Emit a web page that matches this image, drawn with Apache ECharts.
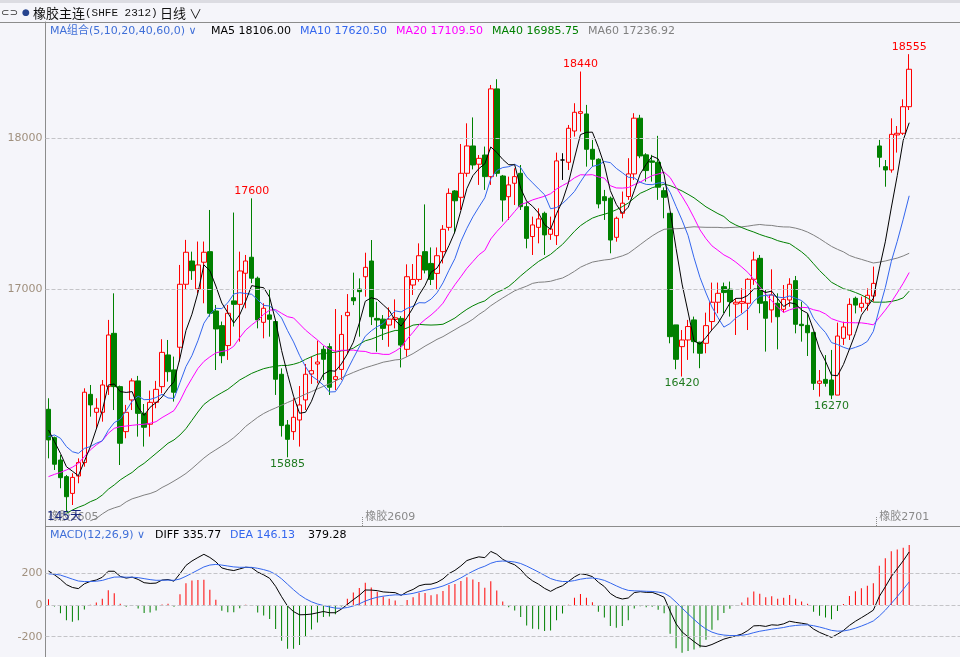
<!DOCTYPE html>
<html><head><meta charset="utf-8">
<script src="https://cdn.jsdelivr.net/npm/echarts@6/dist/echarts.min.js"></script>
<style>html,body{margin:0;padding:0;background:#f5f5fa;}#c{width:960px;height:657px;}</style>
</head><body><div id="c"></div>
<script>
// ---- daily bars (145 days) ----
const opens = [16203,16015,15867,15757,15646,15761,15850,16302,16183,16183,16353,16706,16353,16055,16265,16391,16176,16104,16249,16353,
16563,16464,16614,17031,17185,17000,17177,17247,16854,16757,16625,16921,16898,17104,17210,17071,16779,16828,16784,16435,
16099,16055,16132,16265,16437,16503,16600,16618,16401,16467,16823,16942,16999,17081,17185,16805,16800,16761,16798,16805,
16600,17026,17063,17247,17169,17103,17247,17408,17649,17607,17766,17947,17826,17887,17744,18325,17748,17611,17700,17766,
17545,17347,17408,17501,17362,17353,17854,17839,18046,18163,18159,17925,17859,17611,17601,17342,17501,17612,17762,18131,
17888,17848,17839,17651,17501,16762,16618,16662,16795,16647,16640,16784,16912,17015,16998,16900,16905,16905,17064,17203,
16916,16861,16905,16865,16927,17055,16766,16759,16712,16375,16401,16397,16297,16673,16695,16938,16878,16905,16953,17947,
17810,17788,18020,18031,18207];
const closes = [16000,15839,15750,15624,15752,15850,16316,16232,16210,16364,16695,16353,15978,16183,16391,16176,16084,16249,16335,16580,
16452,16316,17031,17243,17121,17159,17243,16839,16735,16558,16839,16898,17119,17185,17071,16795,16872,16799,16402,16095,
16004,16150,16232,16435,16459,16516,16534,16349,16419,16699,16845,16922,16982,17143,16816,16794,16739,16800,16809,16628,
17081,17063,17220,17125,17063,17220,17395,17633,17584,17766,17947,17821,17865,17744,18325,17766,17589,17689,17744,17545,
17335,17424,17464,17358,17397,17848,17854,18064,18170,18174,17925,17859,17563,17585,17324,17468,17568,17762,18131,17881,
17784,17839,17674,17607,16684,16534,16662,16751,16651,16574,16757,16912,16971,16976,16916,16912,16916,17064,17192,16905,
16806,16960,16816,16931,17031,16766,16757,16710,16375,16390,16375,16297,16688,16748,16898,16893,16905,16958,17037,17872,
17788,18024,18031,18207,18455];
const lows = [15878,15801,15680,15525,15569,15713,15823,16154,16077,16121,16298,16198,15834,16011,16198,16022,15956,16022,16210,16309,
16386,16254,16519,16993,17060,16971,16905,16817,16463,16508,16530,16751,16651,16872,17038,16739,16673,16684,16298,16022,
15885,16000,15956,16198,16371,16375,16397,16298,16330,16397,16573,16893,16684,16949,16761,16584,16662,16617,16739,16480,
16551,16960,17048,17103,17026,16993,17169,17386,17368,17523,17743,17792,17689,17656,17689,17744,17446,17457,17556,17523,
17269,17225,17302,17225,17325,17291,17722,17788,18009,18042,17810,17810,17534,17457,17236,17313,17468,17590,17722,17866,
17711,17711,17590,17468,16640,16468,16420,16530,16574,16475,16574,16728,16839,16839,16817,16695,16839,16728,17027,16839,
16585,16777,16600,16843,16882,16706,16651,16556,16331,16287,16353,16270,16297,16629,16662,16838,16849,16856,16916,17806,
17677,17770,17903,18020,18185];
const highs = [16276,16022,15900,15768,15779,15878,16342,16364,16276,16397,16795,16971,16360,16232,16408,16424,16238,16327,16391,16667,
16662,16552,17159,17325,17247,17314,17314,17523,16894,16784,16894,17506,17247,17225,17600,17082,16905,16993,16795,16474,
16132,16276,16357,16503,16552,16658,16622,16640,16867,16827,16966,17108,17070,17240,17324,16915,16827,16878,16931,16820,
17163,17165,17302,17560,17275,17275,17423,17666,17655,17960,18097,18136,17887,17943,18351,18389,17755,17744,17799,17821,
17578,17479,17534,17512,17479,17903,17899,18086,18230,18440,18219,17987,17865,17656,17612,17479,17645,17866,18164,18153,
17899,17888,18014,17673,17501,16762,16728,16795,16817,16651,16843,17042,17042,17042,17049,16938,17005,17071,17247,17225,
16993,17130,16971,17026,17071,17086,16916,16838,16717,16463,16562,16596,16777,16783,16938,16949,16949,17004,17148,17987,
17854,18130,18079,18256,18555];

// moving-average values before a full window exists
const ma5Head = [16066,15989,15911,15823];
const ma10Head = [16022,16033,16011,15956,15922,15911,15944,15956,15978];
const ma20Head = [15757,15772,15785,15801,15819,15845,15889,15934,15967,15995,16044,16077,16088,16092,16097,16101,16104,16110,16121];
const ma40Head = [null,null,null,15514,15536,15554,15569,15591,15607,15635,15673,15702,15735,15761,15785,15819,15845,15878,15911,15944,
15978,16000,16033,16075,16130,16185,16235,16265,16290,16313,16335,16366,16397,16419,16441,16457,16472,16481,16488];
const ma60Head = [null,null,null,null,null,null,null,15465,15480,15510,15535,15550,15562,15590,15610,15622,15635,15645,15660,15685,
15705,15728,15752,15778,15810,15845,15880,15910,15935,15960,15985,16015,16050,16090,16120,16150,16175,16195,16212,16230,
16248,16265,16285,16303,16320,16338,16355,16372,16390,16410,16430,16447,16463,16478,16490,16502,16515,16522,16530];

// MACD state at the first visible day
const macdStart = {ema12: 15940, ema26: 15726, dea: 196};

const priceTicks = [17000, 18000];
const macdTicks = [-200, 0, 200];
const rollLabels = {0: '橡胶2605', 53: '橡胶2609', 139: '橡胶2701'};
const highMarks = [34, 89, 144];
const lowMarks = [40, 106, 131];
const maNames = ['MA5', 'MA10', 'MA20', 'MA40', 'MA60'];
const maLegendValues = ['18106.00', '17620.50', '17109.50', '16985.75', '17236.92'];
const macdLegendValues = ['335.77', '146.13', '379.28'];
const dayCountLabel = '145天';
const padDays = 8;

// ---- derived ----
const n = closes.length;
const categories = [];
for (let i = 0; i < n + padDays; i++) categories.push('D' + (i + 1));

function movingAvg(win, head) {
  return closes.map((c, i) => {
    if (i < head.length) return head[i];
    let s = 0;
    for (let k = i - win + 1; k <= i; k++) s += closes[k];
    return +(s / win).toFixed(2);
  });
}
const ma5 = movingAvg(5, ma5Head), ma10 = movingAvg(10, ma10Head), ma20 = movingAvg(20, ma20Head),
      ma40 = movingAvg(40, ma40Head), ma60 = movingAvg(60, ma60Head);

const diff = [], dea = [], hist = [];
let e12 = macdStart.ema12, e26 = macdStart.ema26, d = macdStart.dea;
for (let i = 0; i < n; i++) {
  if (i > 0) {
    e12 = e12 * 11 / 13 + closes[i] * 2 / 13;
    e26 = e26 * 25 / 27 + closes[i] * 2 / 27;
  }
  const df = e12 - e26;
  if (i > 0) d = d * 0.8 + df * 0.2;
  diff.push(+df.toFixed(2)); dea.push(+d.toFixed(2)); hist.push(+(2 * (df - d)).toFixed(2));
}

const BG = '#f5f5fa', RED = '#ff0000', GREEN = '#008000', BLUE = '#3366ee';
const FONT = '"DejaVu Sans","Noto Sans CJK SC",sans-serif';
const candleData = opens.map((o, i) => {
  const item = {value: [o, closes[i], lows[i], highs[i]]};
  if (o === closes[i]) item.itemStyle = {color: '#000', color0: '#000', borderColor: '#000', borderColor0: '#000'};
  return item;
});

const markPts = highMarks.map(i => ({coord: [categories[i], highs[i]], value: highs[i],
    label: {position: 'top', distance: 1, color: RED}}))
  .concat(lowMarks.map(i => ({coord: [categories[i], lows[i]], value: lows[i],
    label: {position: 'bottom', distance: 1, color: '#1f7a1f'}})));

function maLine(name, data, color) {
  return {name, type: 'line', xAxisIndex: 0, yAxisIndex: 0, data, symbol: 'none', z: 3,
    lineStyle: {width: 1, color}, itemStyle: {color}, connectNulls: false, silent: true};
}
const dashed = {type: 'dashed', color: '#c4c4c8', width: 1};

const maColors = ['#000000', BLUE, '#ff00ff', GREEN, '#808080'];
const graphics = [
  {type: 'rect', shape: {x: 0, y: 0, width: 960, height: 3}, style: {fill: '#dcdce2'}, silent: true},
  {type: 'line', shape: {x1: 0, y1: 22.5, x2: 960, y2: 22.5}, style: {stroke: '#8c8c8c', lineWidth: 1}, silent: true},
  {type: 'text', x: 1, y: 13, style: {text: '⊂⊃', font: '10px "DejaVu Sans"', fill: '#333', verticalAlign: 'middle'}},
  {type: 'text', x: 22, y: 13, style: {text: '●', font: '9px "DejaVu Sans"', fill: '#27458f', verticalAlign: 'middle'}},
  {type: 'text', x: 33, y: 13, style: {text: '{a|橡胶主连}{b|(SHFE 2312)}', verticalAlign: 'middle',
    rich: {a: {fontFamily: '"Noto Sans CJK SC"', fontSize: 13, fill: '#111'}, b: {fontFamily: '"Liberation Mono"', fontSize: 11, fill: '#111'}}}},
  {type: 'text', x: 160, y: 13, style: {text: '日线 ∨', font: '13px "Noto Sans CJK SC"', fill: '#111', verticalAlign: 'middle'}},
  {type: 'text', x: 50, y: 31, style: {text: 'MA组合(5,10,20,40,60,0) ∨', font: '11px ' + FONT, fill: '#3f6fd8', verticalAlign: 'middle'}},
  {type: 'text', x: 50, y: 535, style: {text: 'MACD(12,26,9) ∨', font: '11px ' + FONT, fill: '#3f6fd8', verticalAlign: 'middle'}},
  {type: 'text', x: 155, y: 535, style: {text: 'DIFF ' + macdLegendValues[0], font: '11px ' + FONT, fill: '#000', verticalAlign: 'middle'}},
  {type: 'text', x: 230, y: 535, style: {text: 'DEA ' + macdLegendValues[1], font: '11px ' + FONT, fill: BLUE, verticalAlign: 'middle'}},
  {type: 'text', x: 308, y: 535, style: {text: macdLegendValues[2], font: '11px ' + FONT, fill: '#000', verticalAlign: 'middle'}},
  {type: 'text', x: 47, y: 517, z: 10, style: {text: dayCountLabel, font: '12px ' + FONT, fill: '#1a2a80', verticalAlign: 'middle'}}
];
const maLegendX = [211, 300, 396, 492, 588];
maNames.forEach((nm, k) => graphics.push({type: 'text', x: maLegendX[k], y: 31,
  style: {text: nm + ' ' + maLegendValues[k], font: '11px ' + FONT, fill: maColors[k], verticalAlign: 'middle'}}));

const chart = echarts.init(document.getElementById('c'), null, {renderer: 'canvas'});
chart.setOption({
  animation: false,
  backgroundColor: BG,
  grid: [
    {left: 45.5, top: 22, width: 918, height: 504},
    {left: 45.5, top: 526, width: 918, height: 131}
  ],
  xAxis: [
    {type: 'category', gridIndex: 0, data: categories, boundaryGap: true,
     axisLine: {show: true, lineStyle: {color: '#8c8c8c'}},
     axisTick: {show: true, inside: true, length: 9, interval: (i) => i !== 0 && (i in rollLabels),
       lineStyle: {color: '#8a8a8a', type: 'dotted'}},
     axisLabel: {show: true, inside: true, interval: (i) => (i in rollLabels), formatter: (v, i) => rollLabels[i] || '',
       align: 'left', color: '#8a8a8a', fontSize: 11, fontFamily: FONT, margin: 3},
     splitLine: {show: false}},
    {type: 'category', gridIndex: 1, data: categories, boundaryGap: true,
     axisLine: {show: false}, axisTick: {show: false}, axisLabel: {show: false}, splitLine: {show: false}}
  ],
  yAxis: [
    {type: 'value', gridIndex: 0, min: 15430, max: 18768, position: 'left',
     axisLine: {show: true, lineStyle: {color: '#8c8c8c'}}, axisTick: {show: false}, splitLine: {show: false},
     axisLabel: {customValues: priceTicks, formatter: (v) => String(v), color: '#a0907e', fontSize: 11, fontFamily: FONT, margin: 3}},
    {type: 'value', gridIndex: 1, min: -328, max: 498, position: 'left',
     axisLine: {show: true, lineStyle: {color: '#8c8c8c'}}, axisTick: {show: false}, splitLine: {show: false},
     axisLabel: {customValues: macdTicks, formatter: (v) => String(v), color: '#a0907e', fontSize: 11, fontFamily: FONT, margin: 3}}
  ],
  series: [
    {name: 'K', type: 'candlestick', xAxisIndex: 0, yAxisIndex: 0, data: candleData, barWidth: 5, z: 2, silent: true,
     itemStyle: {color: BG, color0: GREEN, borderColor: RED, borderColor0: GREEN, borderWidth: 1},
     markLine: {silent: true, symbol: ['none', 'none'], label: {show: false}, lineStyle: dashed, animation: false,
       data: priceTicks.map(v => ({yAxis: v}))},
     markPoint: {silent: true, symbol: 'rect', symbolSize: 1, itemStyle: {color: 'rgba(0,0,0,0)'}, animation: false,
       label: {show: true, fontSize: 11, fontFamily: FONT, formatter: (p) => String(p.value)},
       data: markPts}},
    maLine('MA60', ma60, maColors[4]),
    maLine('MA40', ma40, maColors[3]),
    maLine('MA20', ma20, maColors[2]),
    maLine('MA10', ma10, maColors[1]),
    maLine('MA5', ma5, maColors[0]),
    {name: 'MACD', type: 'bar', xAxisIndex: 1, yAxisIndex: 1, data: hist, barWidth: 1, silent: true,
     itemStyle: {color: (p) => p.value >= 0 ? RED : GREEN},
     markLine: {silent: true, symbol: ['none', 'none'], label: {show: false}, lineStyle: dashed, animation: false,
       data: macdTicks.map(v => ({yAxis: v}))}},
    {name: 'DIFF', type: 'line', xAxisIndex: 1, yAxisIndex: 1, data: diff, symbol: 'none', z: 3, silent: true,
     lineStyle: {width: 1, color: '#000'}},
    {name: 'DEA', type: 'line', xAxisIndex: 1, yAxisIndex: 1, data: dea, symbol: 'none', z: 3, silent: true,
     lineStyle: {width: 1, color: BLUE}}
  ],
  graphic: graphics
});
</script>
</body></html>
